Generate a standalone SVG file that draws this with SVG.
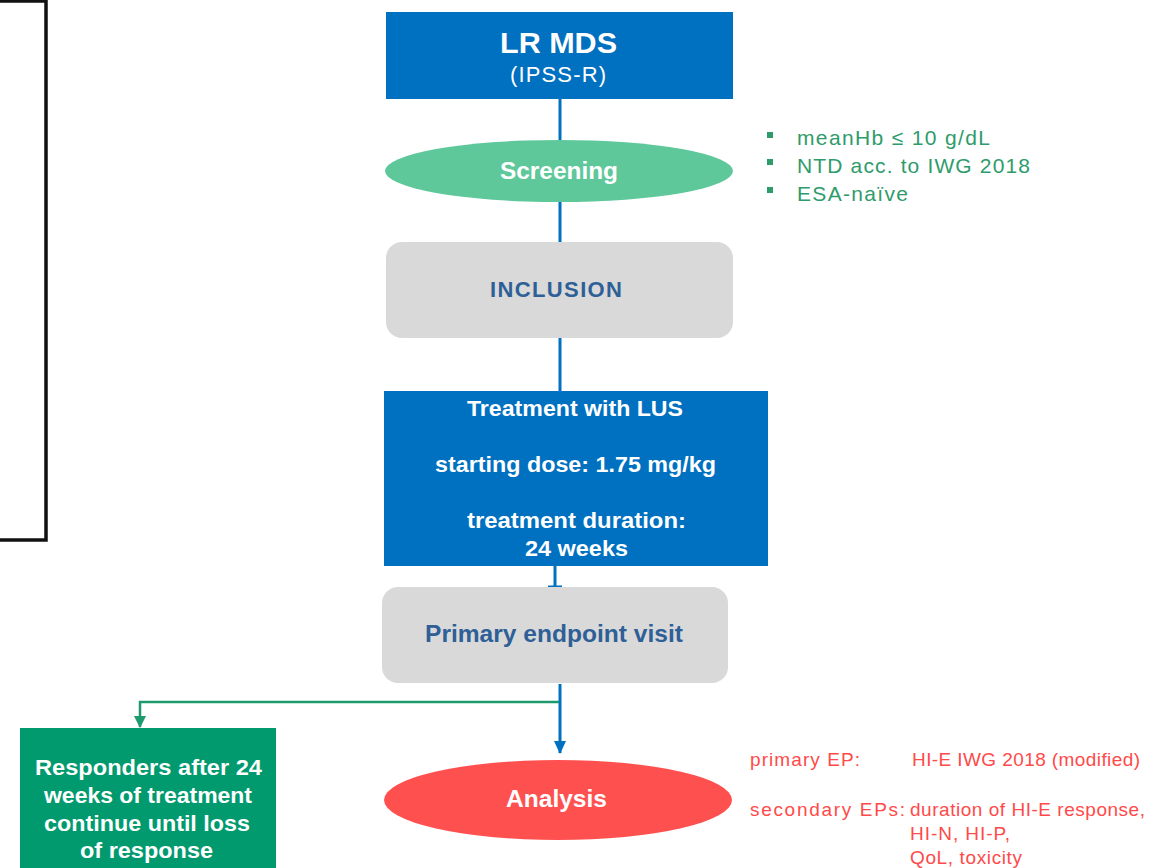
<svg xmlns="http://www.w3.org/2000/svg" width="1150" height="868" viewBox="0 0 1150 868">
  <defs>
    <marker id="arrowBlue" markerWidth="13" markerHeight="12" refX="12" refY="6" orient="auto" markerUnits="userSpaceOnUse" viewBox="0 0 13 12">
      <path d="M0,0 L13,6 L0,12 Z" fill="#0070C0"/>
    </marker>
    <marker id="arrowGreen" markerWidth="12" markerHeight="12" refX="11" refY="6" orient="auto" markerUnits="userSpaceOnUse" viewBox="0 0 12 12">
      <path d="M0,0 L12,6 L0,12 Z" fill="#1E9B6E"/>
    </marker>
  </defs>
  <style>
    text { font-family: "Liberation Sans", Arial, sans-serif; }
    .white { fill: #FFFFFF; font-weight: bold; }
    .steel { fill: #2F5F97; font-weight: bold; }
    .note-green { fill: #2E9B6B; font-size: 21px; }
    .note-red { fill: #FF4A4A; font-size: 19px; }
    .blue-line { stroke: #0070C0; stroke-width: 3; fill: none; }
    .green-line { stroke: #1E9B6E; stroke-width: 2.5; fill: none; }
  </style>

  <rect x="0" y="0" width="1150" height="868" fill="#FFFFFF"/>

  <!-- empty framed panel on the left -->
  <rect id="side-frame" x="-10" y="1" width="56" height="539" fill="none" stroke="#111111" stroke-width="3.5"/>

  <g id="connectors">
    <line class="blue-line" x1="560" y1="99" x2="560" y2="141"/>
    <line class="blue-line" x1="560" y1="202" x2="560" y2="243"/>
    <line class="blue-line" x1="560" y1="338" x2="560" y2="392"/>
    <line class="blue-line" x1="555" y1="566" x2="555" y2="587"/>
    <line class="blue-line" x1="548" y1="587" x2="562" y2="587"/>
    <line class="blue-line" x1="560" y1="684" x2="560" y2="753" marker-end="url(#arrowBlue)"/>
    <polyline class="green-line" points="559,702 140,702 140,727" marker-end="url(#arrowGreen)"/>
  </g>

  <g id="lr-mds">
    <rect x="386" y="12" width="347" height="87" fill="#0070C0"/>
    <text class="white" x="500" y="53" font-size="30" textLength="117" lengthAdjust="spacingAndGlyphs">LR MDS</text>
    <text x="510" y="82" font-size="22" fill="#FFFFFF" textLength="96" lengthAdjust="spacing">(IPSS-R)</text>
  </g>

  <g id="screening">
    <ellipse cx="559" cy="171" rx="174" ry="31" fill="#5EC89B"/>
    <text class="white" x="500" y="179" font-size="24" textLength="118" lengthAdjust="spacingAndGlyphs">Screening</text>
  </g>

  <g id="screening-criteria">
    <rect x="767" y="132" width="6" height="6" fill="#2E9B6B"/>
    <rect x="767" y="159" width="6" height="6" fill="#2E9B6B"/>
    <rect x="767" y="187" width="6" height="6" fill="#2E9B6B"/>
    <text class="note-green" x="797" y="145" textLength="193" lengthAdjust="spacing">meanHb ≤ 10 g/dL</text>
    <text class="note-green" x="797" y="173" textLength="233" lengthAdjust="spacing">NTD acc. to IWG 2018</text>
    <text class="note-green" x="797" y="201" textLength="111" lengthAdjust="spacing">ESA-naïve</text>
  </g>

  <g id="inclusion">
    <rect x="386" y="242" width="347" height="96" rx="16" fill="#D9D9D9"/>
    <text class="steel" x="490" y="297" font-size="22" textLength="132" lengthAdjust="spacing">INCLUSION</text>
  </g>

  <g id="treatment">
    <rect x="384" y="391" width="384" height="175" fill="#0070C0"/>
    <text class="white" x="467" y="416" font-size="22" textLength="216" lengthAdjust="spacingAndGlyphs">Treatment with LUS</text>
    <text class="white" x="435" y="472" font-size="22" textLength="281" lengthAdjust="spacingAndGlyphs">starting dose: 1.75 mg/kg</text>
    <text class="white" x="467" y="528" font-size="22" textLength="219" lengthAdjust="spacingAndGlyphs">treatment duration:</text>
    <text class="white" x="525" y="556" font-size="22" textLength="103" lengthAdjust="spacingAndGlyphs">24 weeks</text>
  </g>

  <g id="primary-endpoint-visit">
    <rect x="382" y="587" width="346" height="96" rx="16" fill="#D9D9D9"/>
    <text class="steel" x="425" y="642" font-size="24" textLength="258" lengthAdjust="spacingAndGlyphs">Primary endpoint visit</text>
  </g>

  <g id="responders">
    <rect x="20" y="728" width="256" height="145" fill="#009A6E"/>
    <text class="white" x="35" y="775" font-size="22" textLength="227" lengthAdjust="spacingAndGlyphs">Responders after 24</text>
    <text class="white" x="44" y="803" font-size="22" textLength="208" lengthAdjust="spacingAndGlyphs">weeks of treatment</text>
    <text class="white" x="44" y="831" font-size="22" textLength="206" lengthAdjust="spacingAndGlyphs">continue until loss</text>
    <text class="white" x="80" y="858" font-size="22" textLength="133" lengthAdjust="spacingAndGlyphs">of response</text>
  </g>

  <g id="analysis">
    <ellipse cx="558" cy="800" rx="174" ry="40" fill="#FF5050"/>
    <text class="white" x="506" y="807" font-size="24" textLength="101" lengthAdjust="spacingAndGlyphs">Analysis</text>
  </g>

  <g id="endpoints">
    <text class="note-red" x="750" y="766" textLength="110" lengthAdjust="spacing">primary EP:</text>
    <text class="note-red" x="912" y="766" textLength="228" lengthAdjust="spacing">HI-E IWG 2018 (modified)</text>
    <text class="note-red" x="750" y="816" textLength="155" lengthAdjust="spacing">secondary EPs:</text>
    <text class="note-red" x="910" y="816" textLength="235" lengthAdjust="spacing">duration of HI-E response,</text>
    <text class="note-red" x="910" y="840" textLength="100" lengthAdjust="spacing">HI-N, HI-P,</text>
    <text class="note-red" x="910" y="864" textLength="112" lengthAdjust="spacing">QoL, toxicity</text>
  </g>
</svg>
